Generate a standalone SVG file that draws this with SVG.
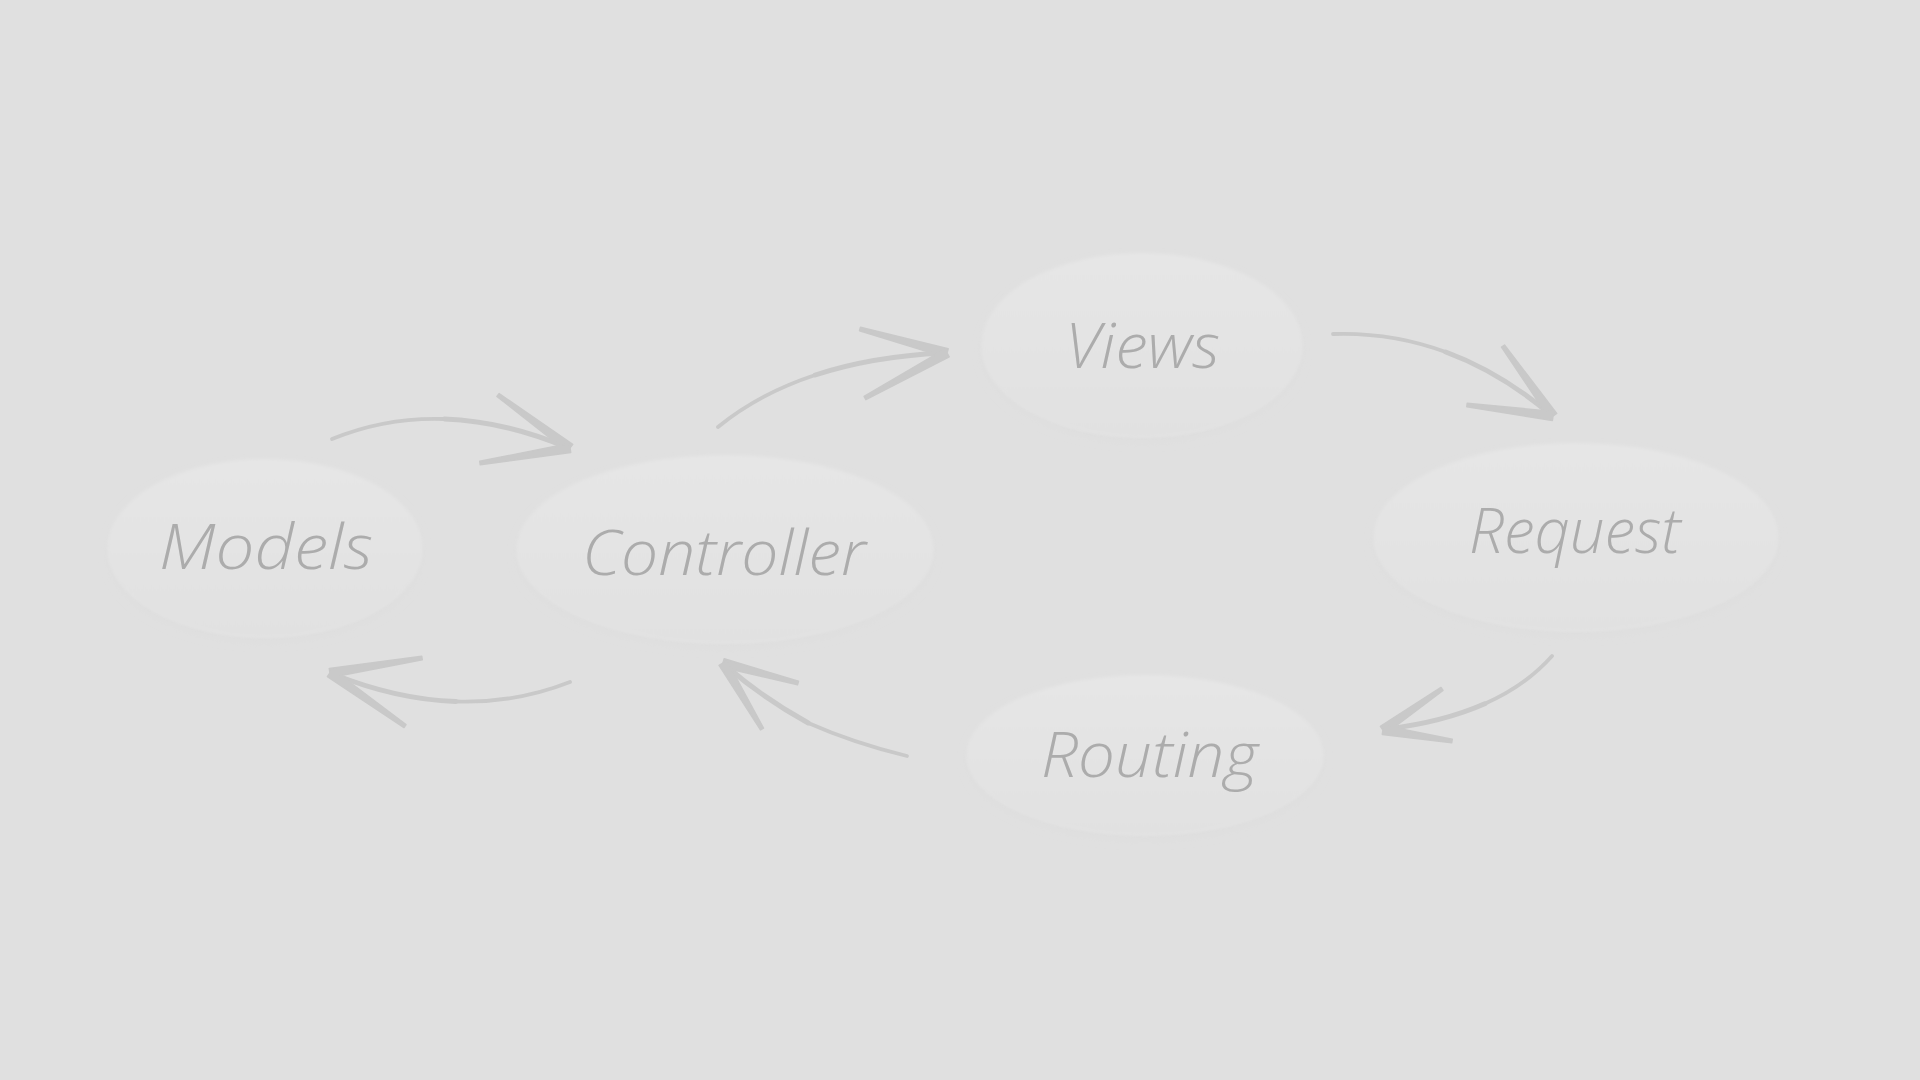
<svg xmlns="http://www.w3.org/2000/svg" width="1920" height="1080" viewBox="0 0 1920 1080">
  <defs>
    <linearGradient id="nodeFill" x1="0" y1="0" x2="0" y2="1">
      <stop offset="0" stop-color="#e6e6e6"/>
      <stop offset="1" stop-color="#e1e1e1"/>
    </linearGradient>
    <filter id="soft" x="-10%" y="-10%" width="120%" height="130%">
      <feGaussianBlur stdDeviation="4"/>
    </filter>
    <filter id="edge" x="-5%" y="-5%" width="110%" height="110%">
      <feGaussianBlur stdDeviation="1.2"/>
    </filter>
  </defs>
  <style>
    .bg { fill: #e0e0e0; }
    .node-shadow { fill: #dedede; filter: url(#soft); }
    .node-shape { fill: url(#nodeFill); stroke: #e3e3e3; stroke-width: 2; filter: url(#edge); }
    .label { font-family: "Open Sans", "DejaVu Sans", sans-serif; font-style: italic; font-weight: 300; font-size: 62px; fill: #acacac; }
    .shaft { fill: none; stroke: #c9c9c9; stroke-width: 3.8; stroke-linecap: round; }
    .shaft-end { fill: none; stroke: #c9c9c9; stroke-width: 5; stroke-linecap: round; }
    .barb { fill: #c9c9c9; stroke: #c9c9c9; stroke-width: 1.5; stroke-linejoin: round; }
  </style>
  <rect class="bg" x="0" y="0" width="1920" height="1080"/>

  <g id="node-models">
    <ellipse class="node-shadow" cx="265" cy="553" rx="157" ry="89"/>
    <ellipse class="node-shape" cx="265" cy="548" rx="157" ry="89"/>
    <text class="label" x="159" y="569" textLength="214" lengthAdjust="spacingAndGlyphs">Models</text>
  </g>

  <g id="node-controller">
    <ellipse class="node-shadow" cx="725" cy="554" rx="208" ry="94"/>
    <ellipse class="node-shape" cx="725" cy="549" rx="208" ry="94"/>
    <text class="label" x="582" y="575" textLength="284" lengthAdjust="spacingAndGlyphs">Controller</text>
  </g>

  <g id="node-views">
    <ellipse class="node-shadow" cx="1142" cy="350" rx="160" ry="92"/>
    <ellipse class="node-shape" cx="1142" cy="345" rx="160" ry="92"/>
    <text class="label" x="1065" y="368" textLength="155" lengthAdjust="spacingAndGlyphs">Views</text>
  </g>

  <g id="node-request">
    <ellipse class="node-shadow" cx="1576" cy="542" rx="202" ry="94"/>
    <ellipse class="node-shape" cx="1576" cy="537" rx="202" ry="94"/>
    <text class="label" x="1469" y="553" textLength="212" lengthAdjust="spacingAndGlyphs">Request</text>
  </g>

  <g id="node-routing">
    <ellipse class="node-shadow" cx="1145" cy="760" rx="178" ry="80"/>
    <ellipse class="node-shape" cx="1145" cy="755" rx="178" ry="80"/>
    <text class="label" x="1041" y="777" textLength="217" lengthAdjust="spacingAndGlyphs">Routing</text>
  </g>

  <g id="connectors">
    <g id="edge-models-controller">
      <path class="shaft" d="M332,439 Q386,417 444.5,419"/>
      <path class="shaft-end" d="M444.5,419 Q503,421 566,447"/>
      <polygon class="barb" points="572.7,444.4 499.1,393.6 496.9,396.4 567.3,451.6"/>
      <polygon class="barb" points="569.3,443.6 479.7,461.2 480.3,464.8 570.7,452.4"/>
    </g>
    <g id="edge-controller-views">
      <path class="shaft" d="M718,427 Q759,393.5 815.25,375"/>
      <path class="shaft-end" d="M815.25,375 Q871.5,356.5 943,353"/>
      <polygon class="barb" points="948.2,348.7 860.5,327.3 859.5,330.7 945.8,357.3"/>
      <polygon class="barb" points="944.8,349.1 864.1,396.4 865.9,399.6 949.2,356.9"/>
    </g>
    <g id="edge-views-request">
      <path class="shaft" d="M1333,334 Q1391.5,332 1445.75,352"/>
      <path class="shaft-end" d="M1445.75,352 Q1500,372 1550,414"/>
      <polygon class="barb" points="1556.7,413.4 1504.5,345 1501.5,347 1549.3,418.6"/>
      <polygon class="barb" points="1553.6,411.5 1467.2,403.2 1466.8,406.8 1552.4,420.5"/>
    </g>
    <g id="edge-request-routing">
      <path class="shaft" d="M1552,656 Q1526,685.5 1484.75,703.75"/>
      <path class="shaft-end" d="M1484.75,703.75 Q1443.5,722 1387,729"/>
      <polygon class="barb" points="1385.6,733.7 1443,690.5 1441,687.5 1380.4,726.3"/>
      <polygon class="barb" points="1382.3,734.4 1451.7,742.8 1452.3,739.2 1383.7,725.6"/>
    </g>
    <g id="edge-routing-controller">
      <path class="shaft" d="M907,756 Q853.5,743 808.25,723"/>
      <path class="shaft-end" d="M808.25,723 Q763,698 726,666"/>
      <polygon class="barb" points="721.8,667.3 797.5,684.7 798.5,681.3 724.2,658.7"/>
      <polygon class="barb" points="719.1,665.3 760.5,729.9 763.5,728.1 726.9,660.7"/>
    </g>
    <g id="edge-controller-models">
      <path class="shaft" d="M570,682 Q515,703.5 455.75,701.5"/>
      <path class="shaft-end" d="M455.75,701.5 Q396.5,699.5 333,674"/>
      <polygon class="barb" points="330.7,677.4 422.3,659.8 421.7,656.2 329.3,668.6"/>
      <polygon class="barb" points="327.4,676.7 404,727.5 406,724.5 332.6,669.3"/>
    </g>
  </g>
</svg>
